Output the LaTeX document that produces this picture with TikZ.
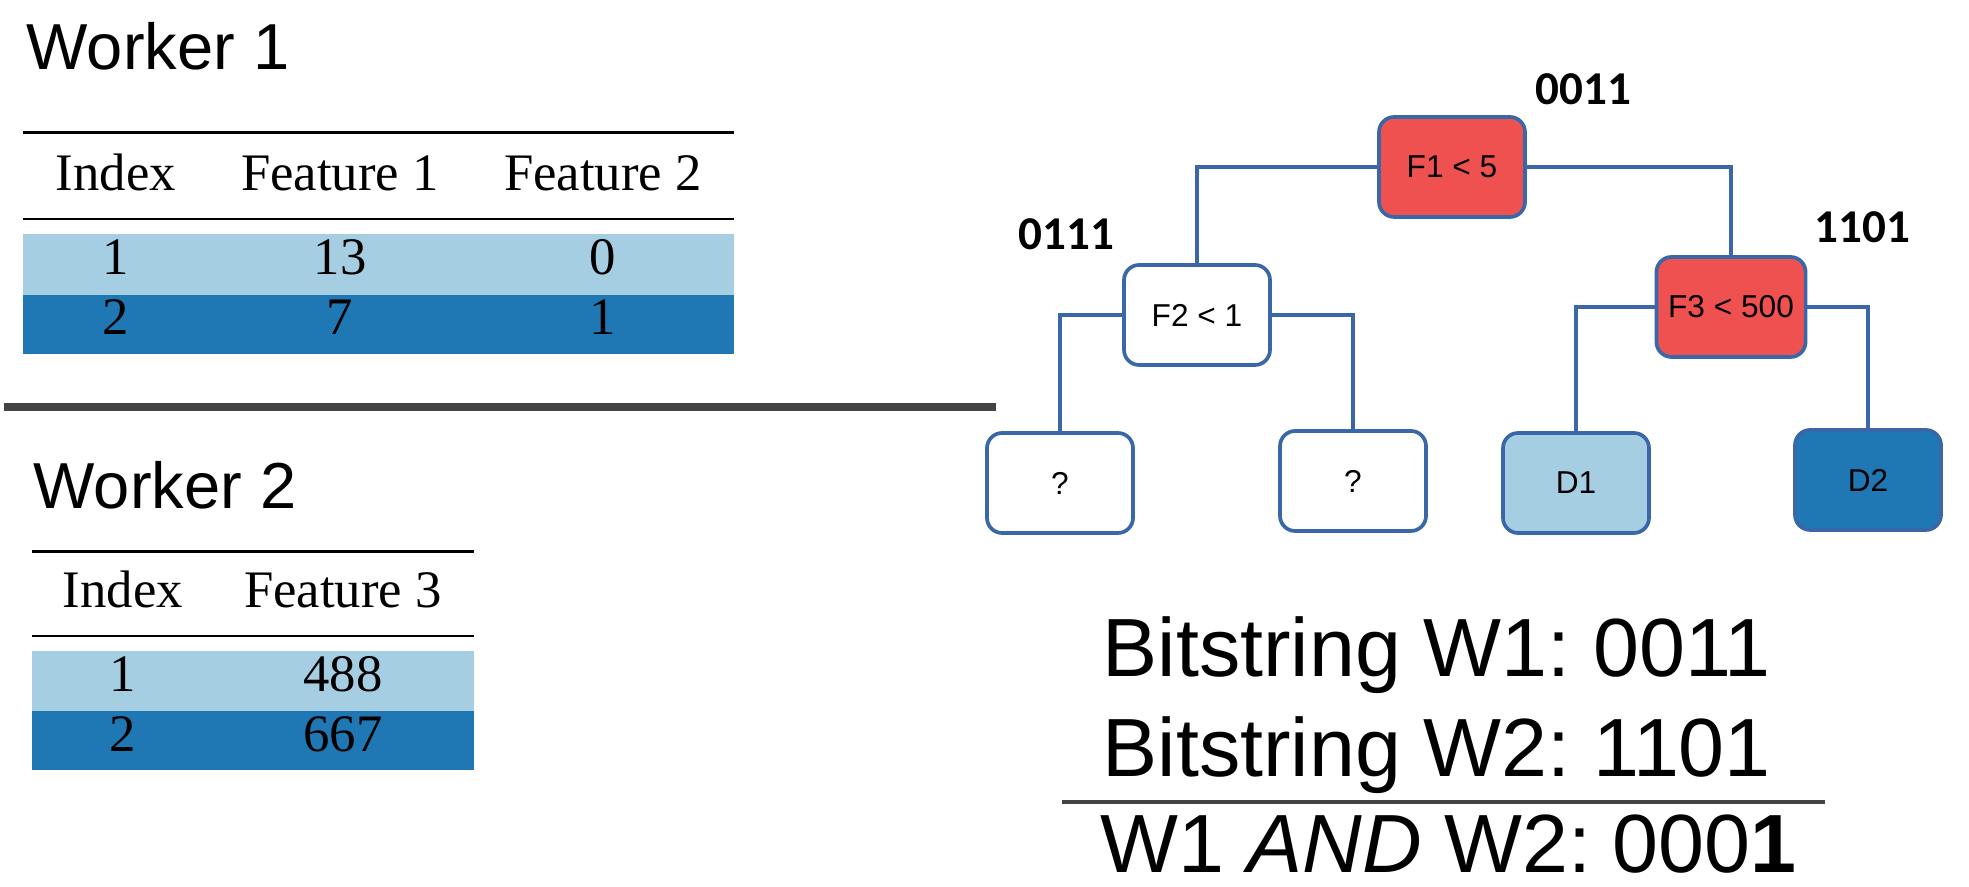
\documentclass[tikz,border=0pt]{standalone}
\usepackage{fontspec}
\setmainfont{Liberation Serif}
\setsansfont{Liberation Sans}
\newfontfamily\bitfont{Carlito}
\usetikzlibrary{positioning}
\definecolor{lightrow}{HTML}{A6CEE3}
\definecolor{darkrow}{HTML}{1F78B4}
\definecolor{splitred}{HTML}{EF5151}
\definecolor{edgeblue}{HTML}{3A67A8}
\definecolor{rulegray}{HTML}{444444}

\begin{document}
\begin{tikzpicture}[font=\sffamily]
\tikzstyle{nd}=[draw=edgeblue,line width=1.05pt,rounded corners=4.3pt,minimum width=1.46cm,minimum height=1cm,font=\sffamily\fontsize{9}{10}\selectfont]
\tikzstyle{edge}=[draw=edgeblue,line width=1.05pt]
\tikzstyle{lbl}=[anchor=base west,inner sep=0pt,font=\bitfont\bfseries\fontsize{13.4}{15}\selectfont]
\tikzstyle{cell}=[anchor=base,inner sep=0pt,font=\rmfamily\fontsize{15}{17}\selectfont]
\tikzstyle{title}=[anchor=base west,inner sep=0pt,font=\sffamily\fontsize{18.5}{21}\selectfont]
\tikzstyle{big}=[anchor=base west,inner sep=0pt,font=\sffamily\fontsize{23.5}{27}\selectfont]
\useasboundingbox (0,0) rectangle (19.69,8.87);
% worker 1 table
\node[title] (w1) at (0.26,8.17) {Worker 1};
\fill[lightrow] (0.23,6.53) rectangle (7.34,5.92); \fill[darkrow] (0.23,5.92) rectangle (7.34,5.33);
\draw[line width=0.85pt] (0.23,7.54) -- (7.34,7.54); \draw[line width=0.6pt] (0.23,6.68) -- (7.34,6.68);
\node[cell] (a0) at (1.16,6.96) {Index}; \node[cell] (a1) at (3.40,6.96) {Feature 1}; \node[cell] (a2) at (6.03,6.96) {Feature 2};
\node[cell] (a3) at (1.16,6.12) {1}; \node[cell] (a4) at (3.40,6.12) {13}; \node[cell] (a5) at (6.03,6.12) {0};
\node[cell] (a6) at (1.16,5.52) {2}; \node[cell] (a7) at (3.40,5.52) {7}; \node[cell] (a8) at (6.03,5.52) {1};
\draw[rulegray,line width=2.2pt] (0.04,4.80) -- (9.96,4.80);
% worker 2 table
\node[title] (w2) at (0.33,3.78) {Worker 2};
\fill[lightrow] (0.32,2.36) rectangle (4.74,1.76); \fill[darkrow] (0.32,1.76) rectangle (4.74,1.17);
\draw[line width=0.85pt] (0.32,3.35) -- (4.74,3.35); \draw[line width=0.6pt] (0.32,2.51) -- (4.74,2.51);
\node[cell] (b0) at (1.23,2.79) {Index}; \node[cell] (b1) at (3.43,2.79) {Feature 3};
\node[cell] (b2) at (1.23,1.95) {1}; \node[cell] (b3) at (3.43,1.95) {488};
\node[cell] (b4) at (1.23,1.35) {2}; \node[cell] (b5) at (3.43,1.35) {667};
% tree
\node[nd,fill=splitred] (f1) at (14.52,7.20) {F1 < 5};
\node[nd,fill=white] (f2) at (11.97,5.72) {F2 < 1};
\node[nd,fill=splitred] (f3) at (17.31,5.80) {F3 < 500};
\node[nd,fill=white] (q1) at (10.60,4.04) {?}; \node[nd,fill=white] (q2) at (13.53,4.06) {?};
\node[nd,fill=lightrow] (d1) at (15.76,4.04) {D1}; \node[nd,fill=darkrow] (d2) at (18.68,4.07) {D2};
\draw[edge] (f1.west) -| (f2.north); \draw[edge] (f1.east) -| (f3.north);
\draw[edge] (f2.west) -| (q1.north); \draw[edge] (f2.east) -| (q2.north);
\draw[edge] (f3.west) -| (d1.north); \draw[edge] (f3.east) -| (d2.north);
\node[lbl] (l1) at (15.35,7.82) {0011}; \node[lbl] (l2) at (10.18,6.37) {0111}; \node[lbl] (l3) at (18.14,6.44) {1101};
% bitstrings
\node[big] (s1) at (11.02,2.10) {Bitstring W1:\hspace{-0.1em} 0011};
\node[big] (s2) at (11.02,1.10) {Bitstring W2:\hspace{-0.1em} 1101};
\draw[rulegray,line width=1.1pt] (10.62,0.85) -- (18.25,0.85);
\node[big] (s3) at (11.00,0.14) {W1 \textit{AND} W2:\hspace{-0.12em} 000\textbf{1}};
\end{tikzpicture}
\end{document}
